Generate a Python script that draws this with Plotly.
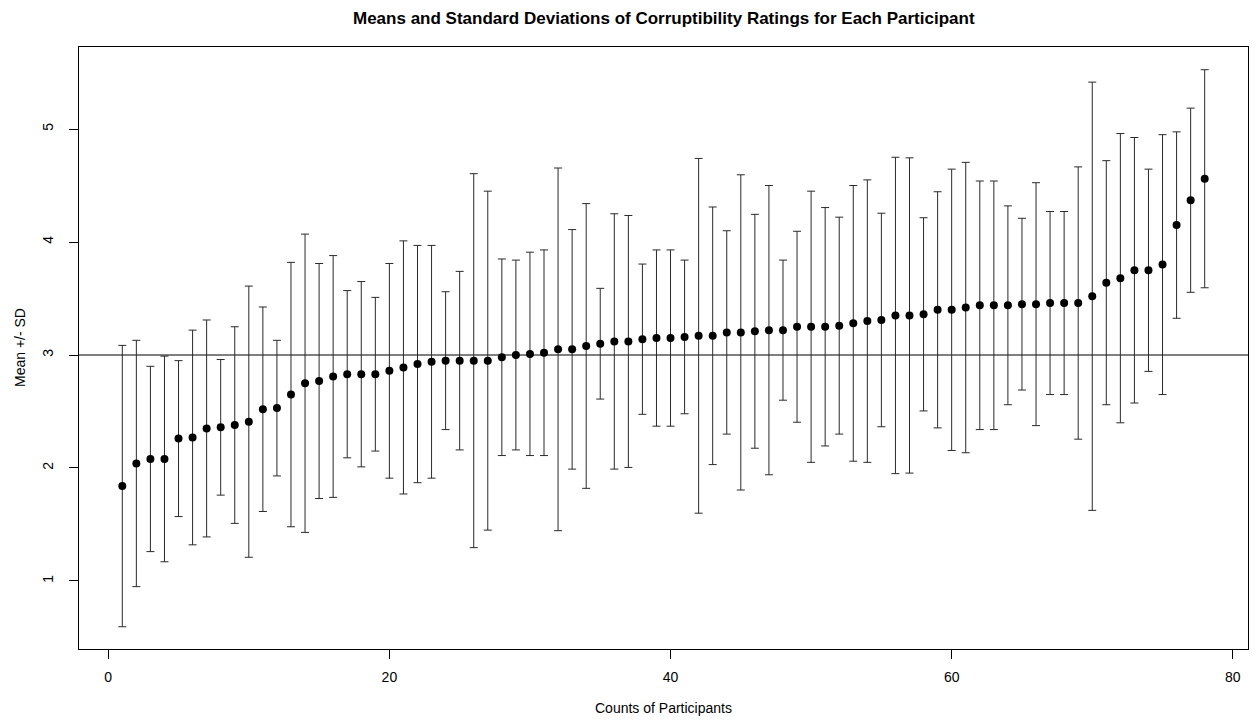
import plotly.graph_objects as go

# Participant index (sorted by mean rating)
participant = list(range(1, 79))

# Mean corruptibility rating per participant
mean_rating = [
    1.84, 2.04, 2.08, 2.08, 2.26, 2.27, 2.35, 2.36, 2.38, 2.41,
    2.52, 2.53, 2.65, 2.75, 2.77, 2.81, 2.83, 2.83, 2.83, 2.86,
    2.89, 2.92, 2.94, 2.95, 2.95, 2.95, 2.95, 2.98, 3.00, 3.01,
    3.02, 3.05, 3.05, 3.08, 3.10, 3.12, 3.12, 3.14, 3.15, 3.15,
    3.16, 3.17, 3.17, 3.20, 3.20, 3.21, 3.22, 3.22, 3.25, 3.25,
    3.25, 3.26, 3.28, 3.30, 3.31, 3.35, 3.35, 3.36, 3.40, 3.40,
    3.42, 3.44, 3.44, 3.44, 3.45, 3.45, 3.46, 3.46, 3.46, 3.52,
    3.64, 3.68, 3.75, 3.75, 3.80, 4.15, 4.37, 4.56,
]

# Standard deviation of ratings per participant
sd_rating = [
    1.245, 1.09, 0.82, 0.91, 0.69, 0.95, 0.96, 0.60, 0.87, 1.20,
    0.905, 0.60, 1.17, 1.32, 1.04, 1.07, 0.74, 0.82, 0.68, 0.95,
    1.12, 1.05, 1.03, 0.61, 0.79, 1.655, 1.50, 0.87, 0.84, 0.90,
    0.91, 1.605, 1.06, 1.26, 0.49, 1.13, 1.115, 0.665, 0.78, 0.78,
    0.68, 1.57, 1.14, 0.90, 1.395, 1.035, 1.28, 0.62, 0.845, 1.20,
    1.055, 0.96, 1.22, 1.25, 0.945, 1.40, 1.395, 0.855, 1.045, 1.245,
    1.285, 1.10, 1.10, 0.88, 0.76, 1.075, 0.81, 0.81, 1.205, 1.895,
    1.08, 1.28, 1.175, 0.895, 1.15, 0.825, 0.815, 0.965,
]

x_ticks = [0, 20, 40, 60, 80]
y_ticks = [1, 2, 3, 4, 5]
reference_level = 3

font_family = "Liberation Sans, Arial, Helvetica, sans-serif"
axis_font_size = 14
title_font_size = 17

fig = go.Figure()

fig.add_trace(go.Scatter(
    x=participant,
    y=mean_rating,
    mode="markers",
    marker=dict(color="black", size=8, line=dict(width=0)),
    error_y=dict(
        type="data",
        array=sd_rating,
        visible=True,
        color="#2a2a2a",
        thickness=1,
        width=4,
    ),
    showlegend=False,
    hoverinfo="x+y",
))

# Horizontal reference line at the scale midpoint
fig.add_shape(
    type="line",
    xref="paper", x0=0, x1=1,
    yref="y", y0=reference_level, y1=reference_level,
    line=dict(color="black", width=1),
    layer="below",
)

fig.update_layout(
    width=1256,
    height=724,
    margin=dict(l=79, r=8, t=47, b=75),
    paper_bgcolor="white",
    plot_bgcolor="white",
    font=dict(family=font_family, size=axis_font_size, color="black"),
    annotations=[
        dict(
            text="<b>Means and Standard Deviations of Corruptibility Ratings for Each Participant</b>",
            xref="paper", yref="paper", x=0.5, y=1,
            xanchor="center", yanchor="middle", yshift=29,
            showarrow=False, font=dict(size=title_font_size, color="black"),
        ),
        dict(
            text="Counts of Participants",
            xref="paper", yref="paper", x=0.5, y=0,
            xanchor="center", yanchor="middle", yshift=-59,
            showarrow=False, font=dict(size=axis_font_size, color="black"),
        ),
        dict(
            text="Mean +/- SD",
            xref="paper", yref="paper", x=0, y=0.5,
            xanchor="center", yanchor="middle", xshift=-59,
            textangle=-90,
            showarrow=False, font=dict(size=axis_font_size, color="black"),
        ),
    ],
    xaxis=dict(
        range=[-2.08, 81.08],
        tickvals=x_ticks,
        ticks="outside",
        ticklen=9,
        tickwidth=1,
        tickcolor="black",
        showline=True,
        linecolor="black",
        linewidth=1,
        mirror=True,
        showgrid=False,
        zeroline=False,
        ticklabelstandoff=6,
        tickfont=dict(size=axis_font_size),
    ),
    yaxis=dict(
        range=[0.398, 5.726],
        tickvals=y_ticks,
        tickangle=-90,
        ticks="outside",
        ticklen=9,
        tickwidth=1,
        tickcolor="black",
        showline=True,
        linecolor="black",
        linewidth=1,
        mirror=True,
        showgrid=False,
        zeroline=False,
        ticklabelstandoff=10,
        tickfont=dict(size=axis_font_size),
    ),
)

fig.write_html("out.html")
